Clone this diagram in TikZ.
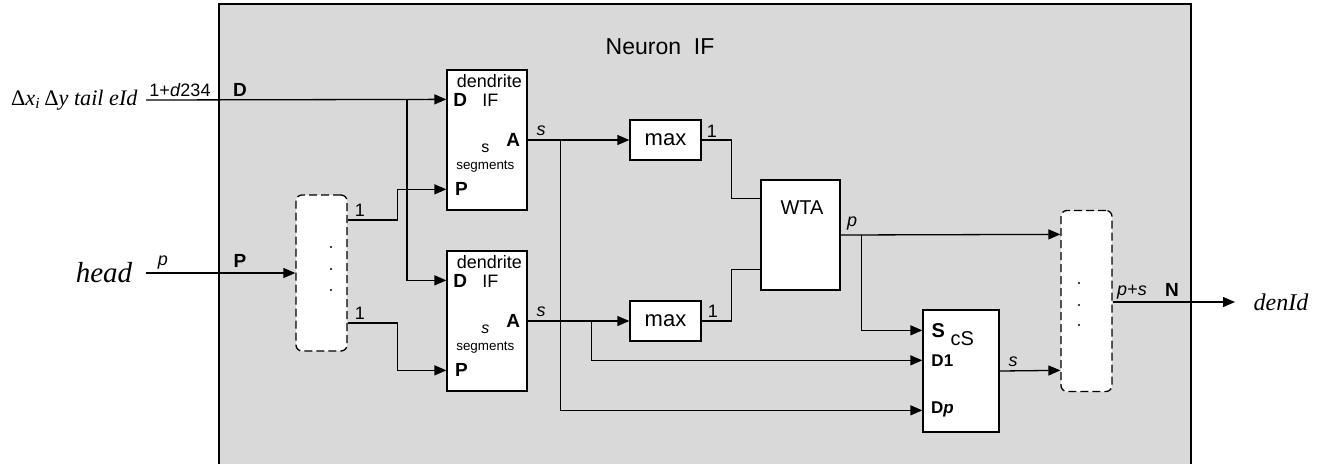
\documentclass[tikz,border=0pt]{standalone}
\usepackage{fontspec}
\setmainfont{Liberation Sans}
\newfontfamily\tmsfont{Liberation Serif}
\usepackage{tikz}
\usetikzlibrary{
    arrows.meta,
    positioning,
    calc
}
\definecolor{panelgray}{RGB}{217,217,217}
\tikzset{
  block/.style = {draw, fill=white, line width=0.65pt, inner sep=0pt},
  dbox/.style  = {draw, fill=white, line width=0.65pt, dash pattern=on 4pt off 2pt,
                  rounded corners=3pt, minimum width=25.5pt, inner sep=0pt},
  wire/.style  = {line width=0.65pt},
  arr/.style   = {wire, -{Triangle[length=6pt,width=5pt]}},
  lbl/.style   = {inner sep=0pt, font=\fontsize{9}{10}\selectfont},
  port/.style  = {inner sep=0pt, font=\bfseries\fontsize{9.5}{11}\selectfont},
  txt/.style   = {inner sep=0pt, font=\fontsize{9}{10}\selectfont}
}

\begin{document}
\begin{tikzpicture}[x=0.5pt, y=-0.5pt]
  \useasboundingbox (0,0) rectangle (1324,463);
  % Neuron panel
  \fill[panelgray] (219,4) rectangle (1191,480);
  \draw[wire] (219,480) -- (219,4) -- (1191,4) -- (1191,480);
  \node[inner sep=0pt, font=\fontsize{11.5}{14}\selectfont] (title) at (660,47) {Neuron~ IF};

  % Blocks
  \node[block, minimum width=40pt, minimum height=70pt] (dendA) at (487,140) {};
  \node[block, minimum width=40pt, minimum height=70pt] (dendB) at (487,321) {};
  \node[block, minimum width=35.5pt, minimum height=20pt,
        font=\fontsize{11}{13}\selectfont] (maxA) at (665.5,140) {max};
  \node[block, minimum width=35.5pt, minimum height=20pt,
        font=\fontsize{11}{13}\selectfont] (maxB) at (665.5,321) {max};
  \node[block, minimum width=39.5pt, minimum height=55pt] (wta) at (800.5,235) {};
  \node[txt, font=\fontsize{10}{11}\selectfont] (wtaname) at (802,208) {WTA};
  \node[block, minimum width=38pt, minimum height=61pt] (cs) at (961,371) {};
  \node[dbox, minimum height=78pt] (split) at (321.5,273) {};
  \node[dbox, minimum height=90.5pt] (merge) at (1086.5,301) {};

  % Dendrite contents and ports
  \foreach \b/\s in {dendA/s, dendB/\textit{s}} {
    \node[txt] at ($(\b.north west)+(43,12)$) {dendrite};
    \node[port] at ($(\b.north west)+(14,31)$) {D};
    \node[txt] at ($(\b.north west)+(44,31)$) {IF};
    \node[txt, font=\fontsize{8}{9}\selectfont] at ($(\b.north west)+(39,79)$) {\s};
    \node[port] at ($(\b.north west)+(67,71)$) {A};
    \node[inner sep=0pt, font=\fontsize{6.7}{7}\selectfont]
      at ($(\b.north west)+(39,97)$) {segments};
    \node[port] at ($(\b.north west)+(15,120)$) {P};
    \coordinate (\b-D) at ($(\b.north west)+(0,30)$);
    \coordinate (\b-P) at ($(\b.north west)+(0,120)$);
  }

  % cS contents and ports
  \node[port, font=\bfseries\fontsize{10}{11}\selectfont] at ($(cs.north west)+(16,21)$) {S};
  \node[inner sep=0pt, font=\fontsize{10}{11}\selectfont] at ($(cs.north west)+(40,29)$) {cS};
  \node[port, font=\bfseries\fontsize{8.5}{9}\selectfont] at ($(cs.north west)+(20,51)$) {D1};
  \node[port, font=\bfseries\fontsize{8.5}{9}\selectfont] at ($(cs.north west)+(20,100)$) {D\textit{p}};
  \coordinate (cs-S) at ($(cs.north west)+(0,21)$);
  \coordinate (cs-D1) at ($(cs.north west)+(0,51)$);
  \coordinate (cs-Dp) at ($(cs.north west)+(0,101)$);

  % WTA and merge ports
  \coordinate (wta-i1) at ($(wta.north west)+(0,19)$);
  \coordinate (wta-i2) at ($(wta.north west)+(0,90)$);
  \coordinate (merge-i1) at ($(merge.north west)+(0,24.5)$);
  \coordinate (merge-i2) at ($(merge.north west)+(0,160.5)$);
  \coordinate (sp1) at ($(split.east)+(0,-53)$);
  \coordinate (sp2) at ($(split.east)+(0,50)$);

  % Dots
  \foreach \d in {-26,-4,17}
    \fill ($(split.center)+(9.5,\d)$) circle (0.6pt);
  \foreach \d in {-18,4,24}
    \fill ($(merge.center)+(-7.5,\d)$) circle (0.6pt);

  % Inputs and output
  \coordinate (inD) at (146,100);
  \coordinate (inP) at (146,273);
  \coordinate (out) at (1235,302);
  \node[inner sep=0pt, anchor=east, font=\tmsfont\fontsize{11.1}{13}\selectfont] (xin) at (138,100)
    {Δ\textit{x}\textsubscript{\textit{i}}\,Δ\textit{y tail eId}};
  \node[inner sep=0pt, font=\tmsfont\itshape\fontsize{14.5}{16}\selectfont] (head) at (104,273) {head};
  \node[inner sep=0pt, font=\tmsfont\itshape\fontsize{12}{14}\selectfont] (den) at (1281,302) {denId};

  % Connectors
  \draw[arr] (inD) -- (dendA-D);
  \draw[arr] (407,100) |- (dendB-D);
  \draw[arr] (inP) -- (split.west);
  \draw[arr] (sp1) -- ++(50,0) |- (dendA-P);
  \draw[arr] (sp2) -- ++(50,0) |- (dendB-P);
  \draw[arr] (dendA.east) -- (maxA.west);
  \draw[arr] ($(dendA.east)+(33,0)$) |- (cs-Dp);
  \draw[arr] (dendB.east) -- (maxB.west);
  \draw[arr] ($(dendB.east)+(64,0)$) |- (cs-D1);
  \draw[wire] (maxA.east) -- ++(30,0) |- (wta-i1);
  \draw[wire] (maxB.east) -- ++(30,0) |- (wta-i2);
  \draw[arr] (wta.east) -- (merge-i1);
  \draw[arr] ($(wta.east)+(21,0)$) |- (cs-S);
  \draw[arr] (cs.east) -- (merge-i2);
  \draw[arr] (merge.east |- out) -- (out);

  % Labels
  \node[lbl] at (180,90) {1+\textit{d}234};
  \node[port] at (240,90) {D};
  \node[lbl] at (163,263) {\textit{p}};
  \node[port] at (240,261) {P};
  \node[lbl] at (360,210) {1};
  \node[lbl] at (360,313) {1};
  \node[lbl] at (541,131) {\textit{s}};
  \node[lbl] at (541,312) {\textit{s}};
  \node[lbl] at (712,131) {1};
  \node[lbl] at (713,311) {1};
  \node[lbl] at (852,224) {\textit{p}};
  \node[lbl] at (1013,362) {\textit{s}};
  \node[lbl] at (1132,292) {\textit{p}+\textit{s}};
  \node[port] at (1172,290) {N};
\end{tikzpicture}
\end{document}
